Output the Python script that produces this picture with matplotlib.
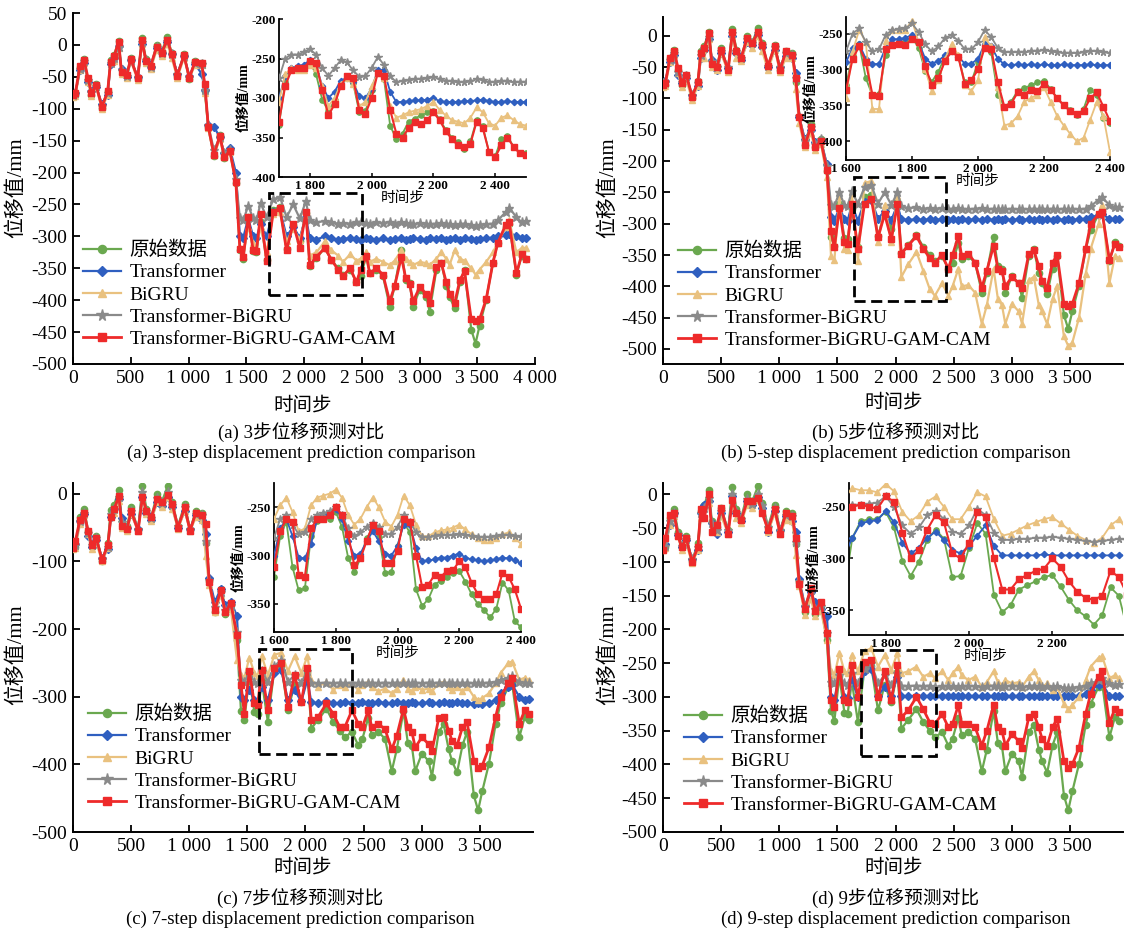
import matplotlib
matplotlib.use("Agg")
import matplotlib.pyplot as plt
from matplotlib.patches import Rectangle
from matplotlib.ticker import FuncFormatter

plt.rcParams["font.family"] = ["Liberation Serif", "Noto Sans CJK SC"]
plt.rcParams["axes.unicode_minus"] = False

labels = ["原始数据", "Transformer", "BiGRU", "Transformer-BiGRU", "Transformer-BiGRU-GAM-CAM"]
colors = ["#6aa84f", "#2f5fc0", "#e9c17f", "#8a8a8a", "#ee2a2a"]
markers = ["o", "D", "^", "*", "s"]

# ---- main plot data (time step, displacement mm) ----
x_main = [0, 20, 60, 95, 130, 160, 200, 250, 300, 325,
          355, 395, 420, 465, 500, 560, 597, 632, 672, 724,
          768, 816, 854, 903, 961, 1007, 1056, 1113, 1142, 1171,
          1220, 1272, 1309, 1358, 1410, 1445, 1474, 1517, 1560, 1588,
          1624, 1676, 1733, 1791, 1849, 1906, 1964, 2016, 2050, 2108,
          2180, 2238, 2295, 2338, 2400, 2454, 2490, 2540, 2569, 2626,
          2684, 2742, 2785, 2843, 2880, 2915, 2944, 3001, 3059, 3088,
          3146, 3189, 3232, 3260, 3304, 3350, 3390, 3448, 3485, 3520,
          3578, 3635, 3678, 3746, 3777, 3839, 3886, 3920]

orig_main = [-80, -78, -35, -22, -55, -78, -62, -99, -72, -24,
             -16, 6, -40, -48, -20, -53, 11, -22, -35, 0,
             -10, 12, -12, -48, -15, -54, -25, -28, -73, -129,
             -174, -141, -177, -165, -216, -321, -335, -269, -323, -325,
             -277, -337, -258, -254, -320, -282, -308, -263, -347, -334,
             -318, -337, -350, -360, -352, -372, -362, -331, -357, -352,
             -362, -410, -378, -321, -368, -373, -410, -384, -395, -418,
             -352, -341, -378, -395, -412, -372, -352, -446, -468, -440,
             -399, -341, -310, -285, -280, -360, -330, -335]

# (a) 3-step
a_trans = [-80, -76, -40, -28, -58, -72, -66, -92, -78, -30, -20, -2, -38, -50, -24, -50, 2, -25,
           -35, -5, -12, 5, -15, -45, -18, -48, -30, -45, -70, -125, -128, -145, -170, -162, -200,
           -300, -302, -272, -300, -303, -280, -300, -262, -258, -300, -285, -302, -270, -303, -305,
           -300, -303, -305, -304, -303, -304, -305, -303, -304, -305, -303, -305, -304, -303, -305,
           -304, -303, -304, -305, -303, -304, -303, -305, -304, -303, -305, -303, -304, -305, -304,
           -303, -302, -300, -298, -296, -300, -303, -302]
a_bigru = [-82, -80, -40, -28, -58, -80, -66, -100, -78, -28, -25, -5, -45, -52, -25, -55, 2, -28,
           -38, -8, -18, 2, -20, -52, -20, -52, -32, -32, -75, -130, -172, -148, -175, -168, -215,
           -318, -328, -285, -310, -318, -285, -325, -265, -262, -308, -288, -305, -270, -330, -325,
           -308, -322, -330, -340, -328, -338, -335, -325, -340, -335, -340, -345, -338, -322, -335,
           -340, -345, -340, -342, -345, -335, -325, -335, -345, -322, -335, -338, -350, -360, -352,
           -340, -325, -310, -285, -275, -325, -318, -318]
a_tbigru = [-78, -76, -38, -25, -55, -74, -64, -95, -76, -28, -20, -3, -40, -48, -24, -50, 5, -24,
            -34, -3, -12, 6, -14, -46, -17, -50, -28, -30, -70, -125, -165, -145, -170, -165, -210,
            -272, -275, -252, -272, -275, -248, -270, -242, -238, -270, -250, -272, -245, -275, -278,
            -276, -278, -280, -279, -280, -278, -277, -279, -280, -278, -279, -277, -280, -278, -279,
            -280, -281, -279, -280, -281, -280, -279, -281, -280, -282, -281, -280, -282, -283, -282,
            -281, -280, -275, -262, -255, -270, -278, -276]
a_ours = [-78, -76, -33, -23, -52, -76, -63, -97, -73, -27, -18, 5, -43, -47, -22, -52, 7, -25,
          -33, -3, -12, 8, -14, -48, -16, -52, -26, -28, -62, -128, -172, -142, -176, -166, -215,
          -320, -333, -270, -322, -323, -265, -338, -262, -256, -322, -280, -318, -262, -345, -332,
          -318, -337, -352, -362, -350, -372, -352, -330, -358, -350, -360, -402, -378, -332, -365,
          -375, -402, -380, -390, -405, -348, -342, -372, -390, -405, -368, -355, -430, -432, -430,
          -398, -342, -310, -282, -278, -358, -328, -335]

# (b) 5-step
b_trans = [-78, -72, -42, -30, -62, -76, -68, -95, -80, -35, -22, -5, -38, -55, -28, -52, 0, -28,
           -38, -10, -15, 2, -18, -50, -22, -50, -32, -35, -60, -130, -165, -150, -170, -168, -205,
           -290, -295, -275, -292, -295, -270, -295, -265, -262, -292, -280, -294, -270,
           -293, -294, -293, -294, -293, -294, -293, -294, -293, -294, -293, -294, -293, -294, -293,
           -294, -293, -294, -293, -294, -293, -294, -293, -294, -293, -294, -293, -294, -293, -294,
           -293, -294, -293, -292, -290, -286, -285, -292, -293, -293]
b_bigru = [-82, -80, -42, -30, -60, -82, -70, -102, -80, -35, -35, -5, -50, -55, -28, -58, 0, -35,
           -40, -10, -20, 0, -25, -55, -22, -58, -35, -35, -85, -140, -178, -155, -182, -172, -225,
           -352, -358, -255, -340, -342, -250, -360, -235, -232, -330, -270, -330, -255, -385, -365,
           -345, -375, -405, -415, -395, -415, -400, -372, -400, -398, -410, -460, -430, -372, -420,
           -430, -460, -428, -440, -460, -390, -385, -430, -440, -460, -420, -400, -480, -495, -490,
           -450, -380, -340, -300, -270, -395, -352, -355]
b_tbigru = [-76, -74, -38, -28, -58, -74, -64, -94, -76, -30, -20, -2, -40, -50, -25, -50, 5, -25,
            -35, -5, -12, 5, -15, -48, -18, -50, -28, -30, -68, -128, -168, -145, -172, -165, -208,
            -270, -272, -250, -270, -272, -248, -268, -242, -238, -268, -250, -270, -250, -272, -275,
            -274, -276, -275, -276, -275, -277, -276, -275, -276, -277, -276, -275, -277, -276, -277,
            -276, -277, -276, -277, -276, -277, -276, -277, -276, -277, -276, -277, -276, -277, -276,
            -277, -276, -272, -262, -258, -270, -274, -273]
b_ours = [-78, -76, -35, -24, -52, -75, -62, -97, -74, -28, -20, 5, -45, -50, -22, -55, 6, -25,
          -35, -3, -12, 6, -14, -48, -16, -55, -25, -30, -68, -130, -175, -145, -178, -168, -215,
          -312, -338, -275, -330, -332, -268, -340, -268, -260, -322, -285, -325, -268, -348, -335,
          -320, -340, -355, -362, -350, -372, -350, -320, -352, -348, -362, -402, -375, -335, -372,
          -375, -400, -385, -395, -402, -348, -342, -368, -392, -402, -362, -350, -428, -432, -428,
          -395, -340, -300, -285, -282, -358, -332, -338]

# (c) 7-step
c_trans = [-78, -74, -40, -30, -62, -78, -68, -95, -82, -35, -22, -8, -36, -50, -30, -52, -5, -28,
           -38, -12, -18, -5, -20, -50, -25, -52, -32, -38, -60, -125, -160, -140, -165, -160, -180,
           -300, -305, -290, -305, -308, -285, -305, -265, -260, -305, -290, -307, -275, -308, -310,
           -307, -309, -310, -308, -309, -310, -308, -309, -310, -308, -309, -310, -308, -309, -310,
           -308, -309, -310, -308, -309, -310, -308, -309, -310, -308, -309, -310, -311, -310, -311,
           -309, -305, -295, -285, -282, -300, -305, -304]
c_bigru = [-82, -80, -45, -32, -60, -82, -72, -100, -80, -35, -28, -10, -50, -55, -30, -55, -5, -30,
           -40, -12, -20, -5, -22, -52, -25, -55, -35, -38, -92, -135, -175, -150, -175, -170, -245,
           -268, -272, -242, -265, -270, -240, -268, -238, -235, -262, -240, -265, -240, -275, -285,
           -278, -290, -283, -285, -280, -290, -282, -278, -285, -292, -288, -295, -288, -275, -288,
           -292, -285, -290, -288, -292, -280, -278, -285, -290, -285, -292, -285, -300, -305, -302,
           -295, -280, -265, -250, -248, -275, -272, -275]
c_tbigru = [-78, -76, -40, -28, -58, -76, -66, -96, -78, -30, -22, -5, -42, -50, -25, -52, 3, -26,
            -36, -6, -14, 3, -16, -48, -20, -52, -30, -32, -70, -128, -168, -145, -172, -165, -205,
            -275, -278, -265, -278, -279, -262, -278, -255, -245, -278, -268, -279, -262, -279, -280,
            -279, -280, -279, -280, -279, -280, -279, -280, -279, -280, -279, -280, -279, -280, -279,
            -280, -279, -280, -279, -280, -279, -280, -279, -280, -279, -280, -279, -280, -279, -280,
            -279, -278, -275, -272, -270, -278, -280, -279]
c_ours = [-80, -70, -38, -28, -55, -75, -65, -98, -75, -35, -22, -3, -48, -52, -25, -55, -5, -25,
          -35, -8, -12, -2, -15, -50, -20, -55, -28, -32, -45, -130, -172, -142, -175, -162, -208,
          -282, -325, -262, -310, -312, -260, -320, -258, -250, -315, -268, -308, -258, -335, -330,
          -310, -325, -345, -345, -320, -340, -345, -320, -345, -340, -348, -378, -358, -318, -345,
          -352, -375, -360, -370, -380, -332, -330, -350, -365, -372, -345, -338, -395, -405, -402,
          -375, -330, -300, -280, -272, -340, -320, -325]

# (d) 9-step
d_trans = [-80, -74, -45, -28, -60, -78, -68, -95, -82, -28, -15, -10, -42, -58, -28, -55, -2, -28,
           -40, -10, -15, -3, -20, -55, -25, -52, -32, -40, -55, -125, -165, -145, -160, -170, -180,
           -300, -305, -262, -300, -302, -275, -300, -262, -258, -298, -285, -298, -270, -298, -299,
           -298, -299, -298, -299, -298, -299, -298, -299, -298, -299, -298, -299, -298, -299, -298,
           -299, -298, -299, -298, -299, -298, -299, -298, -299, -298, -299, -298, -299, -298, -299,
           -298, -295, -290, -282, -280, -298, -299, -298]
d_bigru = [-82, -80, -45, -32, -62, -82, -72, -102, -82, -35, -30, -12, -52, -56, -32, -58, -8, -35,
           -42, -15, -20, -8, -25, -55, -28, -58, -38, -40, -90, -135, -178, -155, -180, -172, -215,
           -262, -268, -235, -262, -265, -238, -262, -232, -228, -255, -238, -260, -235, -265, -262,
           -255, -270, -265, -272, -262, -275, -265, -255, -268, -275, -270, -285, -278, -262, -278,
           -282, -275, -280, -278, -285, -270, -262, -275, -285, -280, -290, -285, -310, -318, -312,
           -300, -275, -255, -242, -240, -272, -268, -272]
d_tbigru = [-78, -76, -40, -28, -58, -76, -66, -96, -78, -28, -20, -5, -42, -52, -25, -52, 0, -26,
            -36, -6, -14, 0, -16, -48, -20, -52, -30, -32, -70, -128, -165, -142, -170, -165, -205,
            -278, -280, -268, -280, -282, -265, -280, -258, -250, -280, -268, -282, -265, -283, -284,
            -283, -284, -283, -285, -284, -283, -284, -285, -284, -283, -284, -285, -284, -283, -284,
            -285, -284, -283, -284, -285, -284, -283, -284, -285, -284, -285, -284, -286, -287, -286,
            -285, -283, -280, -275, -272, -280, -282, -281]
d_ours = [-82, -65, -30, -28, -62, -78, -65, -100, -78, -22, -35, 0, -55, -45, -20, -58, -8, -28,
          -38, -10, -10, -5, -28, -52, -22, -58, -28, -32, -65, -132, -170, -138, -172, -160, -205,
          -305, -315, -258, -305, -308, -252, -300, -248, -245, -300, -262, -305, -252, -330, -320,
          -300, -318, -338, -340, -325, -345, -340, -312, -340, -340, -345, -372, -350, -312, -345,
          -350, -372, -355, -365, -375, -330, -325, -345, -362, -372, -345, -332, -395, -405, -400,
          -375, -325, -295, -270, -262, -338, -318, -322]

# ---- inset data, time steps 1600..2500 every 20 ----
x_inset = list(range(1600, 2501, 20))
orig_inset = [-322, -280, -265, -312, -336, -334, -280, -264, -262, -262,
              -255, -270, -302, -317, -303, -282, -272, -281, -318, -317,
              -290, -266, -276, -335, -352, -345, -330, -326, -322, -318,
              -316, -327, -340, -350, -356, -364, -355, -328, -336, -368,
              -374, -352, -348, -362, -369, -370]

a_trans_in = [-298, -275, -268, -290, -305, -300, -272, -262, -260, -258,
              -252, -258, -285, -300, -292, -278, -275, -280, -298, -300,
              -288, -265, -265, -292, -305, -305, -304, -303, -303, -302,
              -300, -304, -305, -305, -305, -304, -304, -303, -302, -304,
              -305, -305, -304, -305, -305, -305]
a_bigru_in = [-305, -275, -265, -300, -320, -305, -270, -262, -265, -265,
              -258, -262, -285, -310, -300, -282, -275, -282, -310, -305,
              -285, -268, -275, -310, -325, -322, -318, -316, -314, -310,
              -305, -315, -322, -328, -330, -332, -325, -312, -318, -332,
              -335, -325, -322, -328, -333, -335]
a_tbigru_in = [-278, -255, -250, -268, -280, -275, -250, -245, -245, -242,
               -238, -245, -262, -272, -262, -252, -255, -265, -273, -272,
               -262, -248, -258, -272, -280, -278, -277, -276, -276, -275,
               -273, -276, -278, -279, -280, -280, -279, -276, -277, -280,
               -280, -279, -279, -280, -280, -280]
a_ours_in = [-325, -282, -266, -315, -338, -330, -285, -265, -262, -262,
             -253, -256, -290, -322, -308, -285, -272, -275, -315, -320,
             -300, -268, -272, -315, -345, -350, -338, -330, -333, -328,
             -318, -328, -342, -352, -360, -362, -358, -330, -338, -368,
             -375, -360, -350, -362, -370, -372]

b_trans_in = [-290, -270, -265, -285, -293, -292, -270, -258, -258, -256,
              -252, -262, -285, -292, -288, -280, -275, -282, -292, -292,
              -285, -265, -268, -285, -293, -294, -293, -294, -293, -294,
              -293, -294, -294, -293, -294, -294, -294, -293, -294, -294,
              -294, -294, -294, -294, -294, -294]
b_bigru_in = [-340, -275, -245, -262, -355, -355, -260, -245, -245, -245,
              -232, -262, -300, -330, -315, -285, -265, -280, -322, -330,
              -315, -255, -268, -325, -378, -375, -365, -345, -340, -335,
              -325, -345, -365, -378, -390, -400, -395, -370, -345, -365,
              -415, -410, -400, -405, -410, -412]
b_tbigru_in = [-275, -250, -243, -262, -275, -272, -252, -245, -244, -243,
               -236, -248, -265, -275, -268, -256, -252, -260, -272, -272,
               -262, -245, -255, -270, -276, -276, -276, -276, -275, -274,
               -273, -275, -276, -277, -277, -277, -276, -274, -275, -276,
               -277, -277, -277, -277, -277, -277]
b_ours_in = [-329, -285, -268, -290, -335, -337, -272, -266, -264, -266,
             -258, -262, -295, -322, -312, -288, -275, -282, -320, -315,
             -300, -270, -272, -318, -352, -348, -332, -335, -328, -330,
             -320, -328, -340, -350, -358, -362, -358, -340, -332, -352,
             -372, -365, -355, -362, -368, -370]

c_trans_in = [-300, -272, -262, -280, -302, -303, -288, -262, -258, -256,
              -252, -262, -285, -300, -298, -285, -275, -285, -298, -300,
              -290, -268, -268, -292, -306, -305, -304, -302, -302, -300,
              -298, -302, -304, -305, -306, -305, -304, -302, -303, -305,
              -308, -308, -308, -308, -308, -308]
c_bigru_in = [-262, -248, -240, -255, -275, -272, -248, -240, -238, -236,
              -232, -240, -258, -268, -262, -250, -240, -250, -265, -270,
              -258, -238, -248, -268, -280, -280, -276, -274, -273, -271,
              -268, -273, -278, -282, -284, -284, -282, -278, -276, -282,
              -288, -288, -288, -288, -288, -288]
c_tbigru_in = [-282, -262, -258, -268, -278, -276, -262, -258, -256, -254,
               -250, -258, -272, -280, -276, -270, -266, -270, -278, -278,
               -270, -258, -265, -276, -281, -281, -280, -279, -279, -279,
               -278, -279, -280, -281, -281, -281, -280, -279, -279, -280,
               -281, -281, -281, -281, -281, -281]
c_ours_in = [-312, -275, -262, -265, -320, -322, -272, -262, -262, -258,
             -250, -258, -278, -310, -303, -285, -268, -275, -308, -308,
             -295, -262, -265, -300, -333, -330, -320, -322, -316, -315,
             -306, -312, -328, -340, -345, -345, -340, -318, -322, -335,
             -355, -358, -358, -358, -358, -358]

d_trans_in = [-300, -280, -270, -285, -300, -298, -280, -266, -264, -263,
              -254, -265, -285, -295, -290, -280, -274, -282, -292, -295,
              -288, -278, -268, -288, -297, -297, -297, -297, -297, -296,
              -297, -297, -297, -297, -297, -297, -297, -297, -297, -297,
              -297, -297, -297, -297, -297, -297]
d_bigru_in = [-250, -238, -232, -240, -250, -242, -232, -234, -234, -236,
              -228, -235, -255, -264, -258, -245, -240, -250, -262, -262,
              -250, -236, -240, -262, -278, -276, -272, -268, -265, -262,
              -260, -266, -272, -278, -282, -285, -280, -268, -262, -272,
              -276, -276, -276, -276, -276, -276]
d_tbigru_in = [-262, -250, -248, -256, -262, -252, -248, -248, -247, -246,
               -240, -250, -268, -276, -270, -258, -254, -262, -274, -276,
               -268, -252, -258, -275, -282, -282, -281, -281, -280, -280,
               -279, -280, -281, -282, -283, -284, -283, -282, -281, -282,
               -283, -283, -283, -283, -283, -283]
d_ours_in = [-270, -255, -250, -262, -275, -252, -250, -248, -250, -252,
             -240, -245, -275, -300, -292, -272, -258, -265, -295, -300,
             -285, -255, -260, -300, -330, -330, -320, -316, -312, -310,
             -300, -308, -322, -332, -338, -340, -336, -312, -318, -335,
             -345, -345, -345, -345, -345, -345]


def thousands(v, pos):
    s = f"{abs(int(round(v))):,}".replace(",", " ")
    return "-" + s if v < 0 else s


def draw_panel(fig, cfg, main_vals, inset_vals):
    ax = fig.add_axes(cfg["rect"])
    sizes = [4.5, 3.8, 4.8, 6.5, 4.5]
    for i, vals in enumerate(main_vals):
        ax.plot(x_main, vals, color=colors[i], marker=markers[i], ms=sizes[i],
                lw=2.0 if i == 4 else 1.6, mec=colors[i], mfc=colors[i],
                label=labels[i], zorder=2 + i)
    ax.set_xlim(*cfg["xlim"])
    ax.set_ylim(*cfg["ylim"])
    ax.set_xticks(cfg["xticks"])
    ax.set_yticks(cfg["yticks"])
    ax.xaxis.set_major_formatter(FuncFormatter(thousands))
    ax.yaxis.set_major_formatter(FuncFormatter(thousands))
    ax.tick_params(direction="in", length=5, width=1.3, labelsize=14, pad=4)
    for side in ["top", "right"]:
        ax.spines[side].set_visible(False)
    for side in ["left", "bottom"]:
        ax.spines[side].set_linewidth(1.4)
    x0, x1, y0, y1 = cfg["box"]
    ax.add_patch(Rectangle((x0, y0), x1 - x0, y1 - y0, fill=False, ec="black",
                           lw=2.0, ls=(0, (4, 2)), zorder=10))
    ax.legend(loc="upper left", bbox_to_anchor=cfg["legend"], bbox_transform=fig.transFigure,
              frameon=False, fontsize=14, handlelength=1.95, handletextpad=0.45,
              labelspacing=0.23, borderpad=0, borderaxespad=0, numpoints=1, markerscale=1.3)

    iax = fig.add_axes(cfg["inset"])
    iax.patch.set_alpha(0)
    isizes = [3.8, 3.2, 4.0, 5.5, 3.8]
    for i, vals in enumerate(inset_vals):
        iax.plot(x_inset, vals, color=colors[i], marker=markers[i], ms=isizes[i],
                 lw=1.5 if i == 4 else 1.3, mec=colors[i], mfc=colors[i], zorder=2 + i)
    iax.set_xlim(*cfg["ixlim"])
    iax.set_ylim(*cfg["iylim"])
    iax.set_xticks(cfg["ixticks"])
    iax.set_yticks(cfg["iyticks"])
    iax.xaxis.set_major_formatter(FuncFormatter(thousands))
    iax.yaxis.set_major_formatter(FuncFormatter(thousands))
    iax.tick_params(direction="in", length=3, width=1.1, labelsize=9.5, pad=2)
    for lab in iax.get_xticklabels() + iax.get_yticklabels():
        lab.set_fontweight("bold")
    for side in ["top", "right"]:
        iax.spines[side].set_visible(False)
    for side in ["left", "bottom"]:
        iax.spines[side].set_linewidth(1.3)
    iax.set_ylabel("位移值/mm", fontsize=10, fontweight="bold", labelpad=1)
    iax.set_xlabel("时间步", fontsize=10.5, labelpad=0)

    fig.text(cfg["ylab"][0], cfg["ylab"][1], "位移值/mm", rotation=90,
             ha="center", va="center", fontsize=15)
    fig.text(cfg["xlab"][0], cfg["xlab"][1], "时间步", ha="center", va="center", fontsize=14)
    fig.text(cfg["cap"][0], cfg["cap"][1], cfg["cap_cn"], ha="center", va="center", fontsize=13.5)
    fig.text(cfg["cap"][0], cfg["cap"][1] - 0.0225, cfg["cap_en"], ha="center", va="center",
             fontsize=13.5)


W, H = 1134, 932


def frac_rect(l, r, t, b):
    return [l / W, 1 - b / H, (r - l) / W, (b - t) / H]


panels = [
    dict(rect=frac_rect(73, 535, 13, 364), inset=frac_rect(279, 526, 19, 177),
         xlim=(0, 4000), ylim=(-500, 50), xticks=list(range(0, 4001, 500)),
         yticks=list(range(-500, 51, 50)), box=(1700, 2500, -392, -232),
         ixlim=(1700, 2500), iylim=(-400, -200), ixticks=[1800, 2000, 2200, 2400],
         iyticks=[-400, -350, -300, -250, -200], legend=(83 / W, 1 - 241 / H),
         ylab=(16 / W, 1 - 188 / H), xlab=(303 / W, 1 - 406 / H), cap=(301 / W, 1 - 432 / H),
         cap_cn="(a) 3步位移预测对比", cap_en="(a) 3-step displacement prediction comparison"),
    dict(rect=frac_rect(663, 1123, 17, 364), inset=frac_rect(846, 1110, 17, 160),
         xlim=(0, 3956), ylim=(-524, 30), xticks=list(range(0, 3501, 500)),
         yticks=list(range(-500, 1, 50)), box=(1640, 2430, -423, -225),
         ixlim=(1600, 2400), iylim=(-426, -227), ixticks=[1600, 1800, 2000, 2200, 2400],
         iyticks=[-400, -350, -300, -250], legend=(678 / W, 1 - 242 / H),
         ylab=(608 / W, 1 - 188 / H), xlab=(894 / W, 1 - 403 / H), cap=(896 / W, 1 - 432 / H),
         cap_cn="(b) 5步位移预测对比", cap_en="(b) 5-step displacement prediction comparison"),
    dict(rect=frac_rect(73, 533, 483, 832), inset=frac_rect(274, 521, 483, 632),
         xlim=(0, 3957), ylim=(-500, 16), xticks=list(range(0, 3501, 500)),
         yticks=list(range(-500, 1, 100)), box=(1600, 2400, -385, -230),
         ixlim=(1600, 2400), iylim=(-379, -225), ixticks=[1600, 1800, 2000, 2200, 2400],
         iyticks=[-350, -300, -250], legend=(88 / W, 1 - 705 / H),
         ylab=(16 / W, 1 - 655 / H), xlab=(303 / W, 1 - 868 / H), cap=(300 / W, 1 - 898 / H),
         cap_cn="(c) 7步位移预测对比", cap_en="(c) 7-step displacement prediction comparison"),
    dict(rect=frac_rect(663, 1123, 483, 832), inset=frac_rect(849, 1123, 483, 635),
         xlim=(0, 3956), ylim=(-500, 17), xticks=list(range(0, 3501, 500)),
         yticks=list(range(-500, 1, 50)), box=(1700, 2350, -388, -230),
         ixlim=(1712, 2370), iylim=(-374, -227), ixticks=[1800, 2000, 2200],
         iyticks=[-350, -300, -250], legend=(684 / W, 1 - 707 / H),
         ylab=(608 / W, 1 - 655 / H), xlab=(894 / W, 1 - 868 / H), cap=(896 / W, 1 - 898 / H),
         cap_cn="(d) 9步位移预测对比", cap_en="(d) 9-step displacement prediction comparison"),
]

main_sets = [
    [orig_main, a_trans, a_bigru, a_tbigru, a_ours],
    [orig_main, b_trans, b_bigru, b_tbigru, b_ours],
    [orig_main, c_trans, c_bigru, c_tbigru, c_ours],
    [orig_main, d_trans, d_bigru, d_tbigru, d_ours],
]
inset_sets = [
    [orig_inset, a_trans_in, a_bigru_in, a_tbigru_in, a_ours_in],
    [orig_inset, b_trans_in, b_bigru_in, b_tbigru_in, b_ours_in],
    [orig_inset, c_trans_in, c_bigru_in, c_tbigru_in, c_ours_in],
    [orig_inset, d_trans_in, d_bigru_in, d_tbigru_in, d_ours_in],
]

fig = plt.figure(figsize=(W / 100, H / 100), dpi=100)
for cfg, mv, iv in zip(panels, main_sets, inset_sets):
    draw_panel(fig, cfg, mv, iv)

fig.savefig("out.png", dpi=100)
